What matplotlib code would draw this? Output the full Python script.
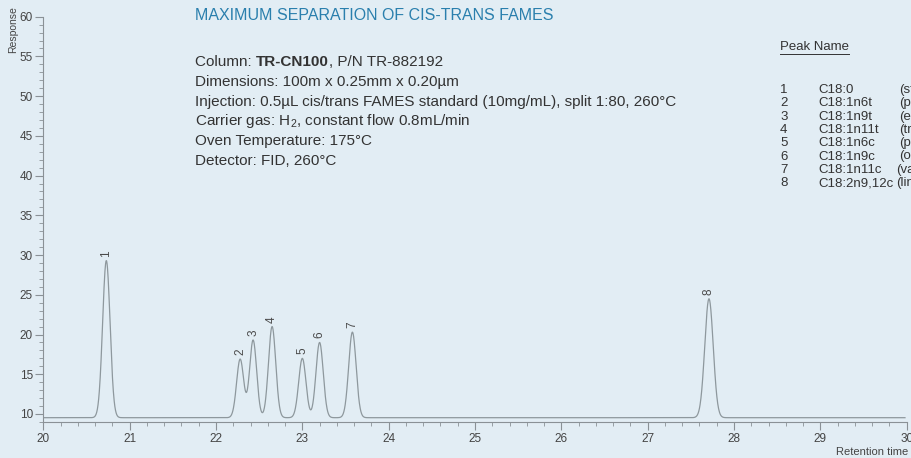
import numpy as np
import matplotlib.pyplot as plt
from matplotlib.ticker import MultipleLocator

# peak table: retention time (min), apex response, peak width (sigma, min)
peak_ids = ["1", "2", "3", "4", "5", "6", "7", "8"]
retention = [20.73, 22.28, 22.43, 22.65, 23.00, 23.20, 23.58, 27.71]
apex = [29.3, 16.9, 19.3, 21.0, 17.0, 19.0, 20.3, 24.5]
sigma = [0.043, 0.041, 0.041, 0.042, 0.042, 0.042, 0.043, 0.049]
baseline = 9.53

peak_names = ["C18:0", "C18:1n6t", "C18:1n9t", "C18:1n11t",
              "C18:1n6c", "C18:1n9c", "C18:1n11c", "C18:2n9,12c"]
common_names = ["(stearic)", "(petroselaidic)", "(elaidic)", "(trans-vaccenic)",
                "(petroselinic)", "(oleic)", "(vaccenic)", "(linoleic)"]

# first line is split into (text, weight) pieces so the column name is bold
column_line = [("Column: ", "normal"), ("TR-CN100", "bold"), (", P/N TR-882192", "normal")]
method_lines = [
    "Dimensions: 100m x 0.25mm x 0.20µm",
    "Injection: 0.5µL cis/trans FAMES standard (10mg/mL), split 1:80, 260°C",
    r"Carrier gas: H$_2$, constant flow 0.8mL/min",
    "Oven Temperature: 175°C",
    "Detector: FID, 260°C",
]

bg = "#e2edf4"
ink = "#333333"
trace_col = "#8e989d"
axis_col = "#8a9196"

plt.rcParams["font.family"] = ["Liberation Sans", "DejaVu Sans"]
plt.rcParams["mathtext.fontset"] = "custom"
plt.rcParams["mathtext.rm"] = "Liberation Sans"
plt.rcParams["mathtext.bf"] = "Liberation Sans:bold"

W, H = 911, 458
fig = plt.figure(figsize=(W / 100, H / 100), dpi=100, facecolor=bg)
ax = fig.add_axes([43.3 / W, 1 - 422.3 / H, (906.7 - 43.3) / W, (422.3 - 16.7) / H])
ax.set_facecolor(bg)

# chromatogram trace built from the peak table
t = np.linspace(20.0, 29.98, 4000)
signal = np.full_like(t, baseline)
for rt, h, s in zip(retention, apex, sigma):
    signal += (h - baseline) * np.exp(-0.5 * ((t - rt) / s) ** 2)
ax.plot(t, signal, color=trace_col, lw=0.9)

for pid, rt, h in zip(peak_ids, retention, apex):
    ax.text(rt, h + 0.5, pid, rotation=90, ha="center", va="bottom",
            fontsize=8.5, color="#4a4a4a")

ax.set_xlim(20, 30)
ax.set_ylim(8.95, 60)
for side in ["top", "right"]:
    ax.spines[side].set_visible(False)
for side in ["left", "bottom"]:
    ax.spines[side].set_color(axis_col)
    ax.spines[side].set_linewidth(0.8)

ax.xaxis.set_major_locator(MultipleLocator(1))
ax.xaxis.set_minor_locator(MultipleLocator(0.2))
ax.yaxis.set_minor_locator(MultipleLocator(1))
ax.set_yticks(np.arange(10, 61, 5))
ax.tick_params(which="major", length=6, width=0.8, color=axis_col,
               labelsize=8.5, labelcolor="#444444", pad=1.5)
ax.tick_params(which="minor", length=3, width=0.6, color=axis_col)

fig.text(13 / W, 1 - 30 / H, "Response", rotation=90, ha="center", va="center",
         fontsize=7.5, color="#444444")
fig.text(908 / W, 1 - 452 / H, "Retention time", ha="right", va="center",
         fontsize=8, color="#444444")

# method description
fig.text(195 / W, 1 - 15 / H, "MAXIMUM SEPARATION OF CIS-TRANS FAMES",
         ha="left", va="center", fontsize=11.5, color="#2a7fad")

renderer = fig.canvas.get_renderer()
x = 195 / W
y0 = 66
for piece, weight in column_line:
    txt = fig.text(x, 1 - y0 / H, piece, ha="left", va="baseline",
                   fontsize=11, color=ink, fontweight=weight)
    x = txt.get_window_extent(renderer).x1 / W

for i, line in enumerate(method_lines):
    fig.text(195 / W, 1 - (y0 + 19.8 * (i + 1)) / H, line, ha="left",
             va="baseline", fontsize=11, color=ink)

# peak name table
fig.text(780 / W, 1 - 47 / H, "Peak Name", ha="left", va="center",
         fontsize=9.5, color=ink)
fig.add_artist(plt.Line2D([780 / W, 849 / W], [1 - 54 / H, 1 - 54 / H],
                          color=ink, lw=0.7))
for i in range(len(peak_ids)):
    y = 1 - (90 + 13.3 * i) / H
    fig.text(780 / W, y, peak_ids[i], ha="left", va="center", fontsize=9.5, color=ink)
    fig.text(818 / W, y, peak_names[i], ha="left", va="center", fontsize=9.5, color=ink)
    px = 896 if i >= 6 else 899
    fig.text(px / W, y, common_names[i], ha="left", va="center", fontsize=9.5, color=ink)

fig.savefig("out.png", dpi=100, facecolor=bg)
